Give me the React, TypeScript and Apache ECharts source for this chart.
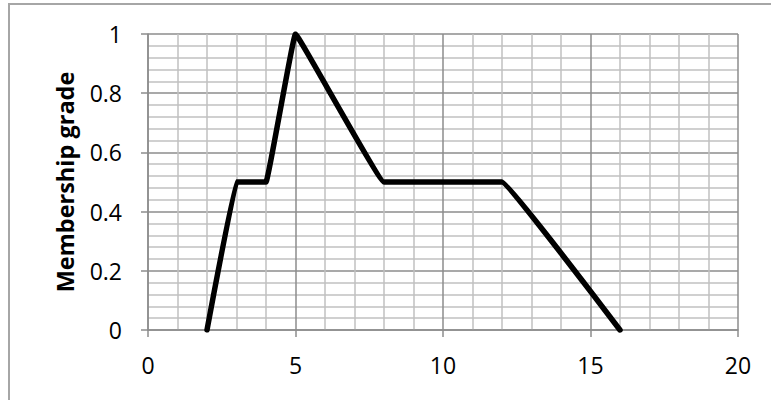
import React, { useEffect, useRef } from "react";
import * as echarts from "echarts";

const xValues = [2, 3, 4, 5, 8, 12, 16];
const membership = [0, 0.5, 0.5, 1, 0.5, 0.5, 0];
const xTicks = [0, 5, 10, 15, 20];
const yTicks = [0, 0.2, 0.4, 0.6, 0.8, 1];
const yTitle = "Membership grade";

export default function App() {
  const ref = useRef<HTMLDivElement>(null);
  useEffect(() => {
    if (!ref.current) return;
    const chart = echarts.init(ref.current, null, { renderer: "svg" });
    const font = "'Open Sans', sans-serif";
    chart.setOption({
      animation: false,
      backgroundColor: "#ffffff",
      graphic: [
        {
          type: "rect",
          shape: { x: 9, y: 4, width: 800, height: 430 },
          style: { fill: "none", stroke: "#a6a6a6", lineWidth: 2 },
          silent: true,
        },
      ],
      grid: { left: 148, right: 33, top: 34, bottom: 70 },
      xAxis: {
        type: "value",
        min: xTicks[0],
        max: xTicks[xTicks.length - 1],
        interval: 5,
        axisLine: { show: true, lineStyle: { color: "#8c8c8c", width: 1.5 } },
        axisTick: { show: true, inside: false, length: 7, lineStyle: { color: "#8c8c8c", width: 1.5 } },
        axisLabel: { color: "#000", fontFamily: font, fontSize: 23, margin: 23 },
        splitLine: { show: true, lineStyle: { color: "#8c8c8c", width: 1.5 } },
        minorTick: { show: false, splitNumber: 5 },
        minorSplitLine: { show: true, lineStyle: { color: "#c0c0c0", width: 1.5 } },
      },
      yAxis: {
        type: "value",
        min: yTicks[0],
        max: yTicks[yTicks.length - 1],
        interval: 0.2,
        name: yTitle,
        nameLocation: "middle",
        nameGap: 71,
        nameTextStyle: { color: "#000", fontFamily: font, fontSize: 23.5, fontWeight: "bold" },
        axisLine: { show: true, lineStyle: { color: "#8c8c8c", width: 1.5 } },
        axisTick: { show: true, inside: false, length: 7, lineStyle: { color: "#8c8c8c", width: 1.5 } },
        axisLabel: { color: "#000", fontFamily: font, fontSize: 23, margin: 26 },
        splitLine: { show: true, lineStyle: { color: "#8c8c8c", width: 1.5 } },
        minorTick: { show: false, splitNumber: 5 },
        minorSplitLine: { show: true, lineStyle: { color: "#c0c0c0", width: 1.5 } },
      },
      series: [
        {
          type: "line",
          data: xValues.map((x, i) => [x, membership[i]]),
          showSymbol: false,
          smooth: 0.04,
          lineStyle: { color: "#000", width: 5.5, cap: "round", join: "round" },
          z: 5,
        },
      ],
    });
    return () => chart.dispose();
  }, []);
  return (
    <div
      ref={ref}
      style={{ position: "fixed", left: 0, top: 0, width: 771, height: 400 }}
    />
  );
}
